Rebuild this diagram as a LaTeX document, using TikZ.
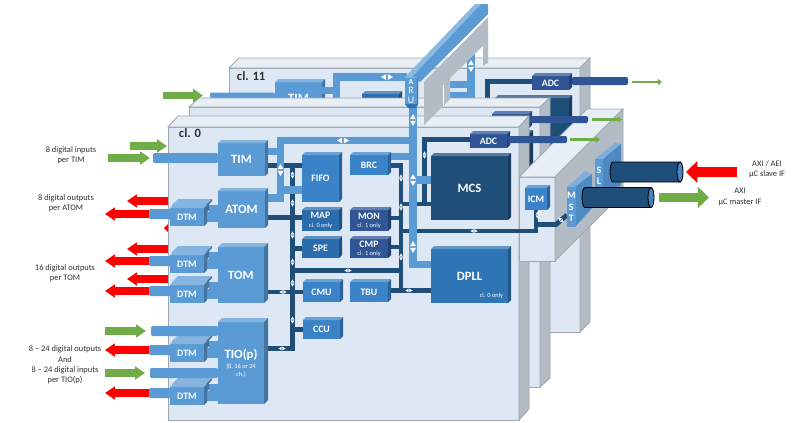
\documentclass[tikz,border=0pt]{standalone}
\usepackage{fontspec}
\setmainfont{Carlito}
\usepackage{xcolor}
\definecolor{boxlight}{HTML}{5B9BD5}
\definecolor{boxmid}{HTML}{3A83C9}
\definecolor{mapblue}{HTML}{2B6CAD}
\definecolor{monblue}{HTML}{2F5597}
\definecolor{mcsblue}{HTML}{1F4E79}
\definecolor{dpllblue}{HTML}{2E75B6}
\definecolor{platefront}{HTML}{DEE8F4}
\definecolor{platetop}{HTML}{E8EEF6}
\definecolor{plateside}{HTML}{B3BBC4}
\definecolor{plateedge}{HTML}{A0A6AD}
\definecolor{armgreen}{HTML}{70AD47}
\definecolor{labelgrey}{HTML}{303030}
\usepackage{tikz}
\usetikzlibrary{
    arrows.meta
}
\pgfdeclarelayer{back}
\pgfdeclarelayer{plate}
\pgfdeclarelayer{bus}
\pgfsetlayers{back,plate,bus,main}
\newcommand{\bigtxt}{\fontsize{9}{10}\selectfont\bfseries}
\newcommand{\midtxt}{\fontsize{7}{8}\selectfont\bfseries}
\newcommand{\tinytxt}{\fontsize{4.5}{5.2}\selectfont\mdseries}
\tikzset{
    platebox/.style = {rectangle, fill=platefront, draw=plateedge, line width=.6pt,
                       inner sep=0pt, outer sep=0pt, anchor=north west},
    platetopf/.style = {fill=platetop, draw=plateedge, line width=.6pt},
    platesidef/.style = {fill=plateside, draw=plateedge, line width=.6pt},
    cubebox/.style  = {rectangle, inner sep=0pt, outer sep=0pt, anchor=north west,
                       align=center, text=white, font=\fontsize{7}{8}\selectfont},
    barbox/.style   = {rectangle, fill=boxlight, rounded corners=1pt,
                       inner sep=0pt, outer sep=0pt, anchor=east},
    tubebox/.style  = {rectangle, fill=monblue, rounded corners=1pt,
                       inner sep=0pt, outer sep=0pt, anchor=west},
    cylbody/.style  = {fill=mcsblue, draw=black, line width=.6pt},
    cylcap/.style   = {fill=boxlight!70!mcsblue, draw=black, line width=.6pt},
    lightBus/.style = {draw=boxlight, line width=5pt},
    darkBus/.style  = {draw=mcsblue, line width=3.4pt},
    cabBus/.style   = {draw=boxlight, line width=7pt},
    greenArr/.style = {-{Triangle[length=7pt,width=9pt]}, draw=armgreen, line width=5pt},
    redArr/.style   = {-{Triangle[length=7pt,width=9pt]}, draw=red, line width=5pt},
    thinArr/.style  = {-{Triangle[length=3pt,width=4.5pt]}, draw=armgreen, line width=1.6pt},
    greenBig/.style = {-{Triangle[length=8pt,width=15pt]}, draw=armgreen, line width=7pt},
    redBig/.style   = {-{Triangle[length=8pt,width=15pt]}, draw=red, line width=7pt},
    sideLabel/.style = {font=\fontsize{6}{7.4}\selectfont, align=center, text=labelgrey},
    clLabel/.style  = {font=\fontsize{9}{10}\selectfont\bfseries, text=labelgrey, anchor=west},
    twoArrows/.pic  = {
        \fill[white] (-3,-.8) -- (0,-6) -- (3,-.8) -- cycle;
        \fill[white] (-3,.8) -- (0,6) -- (3,.8) -- cycle;
    }
}
% plate with its top and right faces
\newcommand{\slab}[7]{
  \node[platebox, minimum width=#4*0.025cm, minimum height=#5*0.025cm] (#1) at (#2,#3) {};
  \filldraw[platetopf] (#1.north west) -- ++(#6,-#7) -- ++(#4,0) -- (#1.north east) -- cycle;
  \filldraw[platesidef] (#1.north east) -- ++(#6,-#7) -- ++(0,#5) -- (#1.south east) -- cycle;
}
% block: [depth]{name}{x0}{y0}{x1}{y1}{colour}{text}
\newcommand{\cube}[8][3]{
  \node[cubebox, fill=#7, minimum width={(#5-#3-#1)*0.025cm},
        minimum height={(#6-#4-#1)*0.025cm}] (#2) at ({#3},{#4+#1}) {#8};
  \fill[#7!75!white] (#2.north west) -- ++(#1,-#1) -- ++({#5-#3-#1},0) -- (#2.north east) -- cycle;
  \fill[#7!75!black] (#2.north east) -- ++(#1,-#1) -- ++(0,{#6-#4-#1}) -- (#2.south east) -- cycle;
}
% stacked DTM with its two stubs: {name}{y0}{target}
\newcommand{\dtm}[3]{
  \begin{pgfonlayer}{bus}
    \cube{#1a}{175}{#2-6}{212}{#2+11}{boxlight}{}
    \draw[cabBus] (#1a.east |- 0,#2+5) -- (#3.west |- 0,#2+5);
  \end{pgfonlayer}
  \cube{#1b}{172}{#2-3}{209}{#2+14}{boxlight}{}
  \cube{#1}{170}{#2}{207}{#2+21}{boxlight}{\midtxt DTM}
  \begin{pgfonlayer}{bus}
    \draw[cabBus] (#1.east |- 0,#2+12) -- (#3.west |- 0,#2+12);
  \end{pgfonlayer}
  \node[barbox, minimum width=23*0.025cm, minimum height=10*0.025cm] (#1L) at (172,#2+9) {};
}
% round tube: {name}{x0}{y centre}{length}
\newcommand{\tubecyl}[4]{
  \node[rectangle, inner sep=0pt, outer sep=0pt, anchor=west,
        minimum width=#4*0.025cm, minimum height=20*0.025cm] (#1) at (#2,#3) {};
  \filldraw[cylbody] (#1.north east) -- (#1.north west)
     arc[start angle=-90, end angle=-270, x radius=3, y radius=10] -- (#1.south east) -- cycle;
  \filldraw[cylcap] (#1.east) ellipse [x radius=3, y radius=10];
}

\begin{document}
\begin{tikzpicture}[x=0.025cm, y=-0.025cm]
\useasboundingbox (0,0) rectangle (800,422);

% ===== cl. 11 (back) =====
\begin{pgfonlayer}{back}
\slab{plateB}{229}{68}{351}{264}{10}{10}
\node[clLabel] (clB) at (232,76) {cl. 11};
\node[barbox, minimum width=65*0.025cm, minimum height=6*0.025cm] (barB) at (275,95.5) {};
\coordinate (busBa) at (336.5,77);
\cube{TIMb}{275}{79}{325}{115}{boxlight}{\bigtxt TIM}
\cube{BRCb}{362}{91}{402}{115}{mapblue}{}
\draw[lightBus] (TIMb.east |- 0,90.5) -- (busBa |- 0,90.5);
\draw[lightBus] (busBa |- 0,99) -- (busBa) -- (407,77);
\draw[lightBus] (450,84.5) -- (471,84.5);
\draw[lightBus] (450,96) -- (471,96);
\draw[lightBus] (471,50) -- (471,100);
\cube{MCSb}{495}{95}{572}{185}{mcsblue}{}
\cube{ADCb}{532}{73}{572}{90}{monblue}{\midtxt ADC}
\draw[darkBus] (487.5,99) -- (487.5,81.5) -- (ADCb.west |- 0,81.5);
\pic at (387,77) [rotate=90] {twoArrows};
\pic at (471,66) {twoArrows};
% ===== middle plate =====
\slab{plateM}{189}{107}{351}{280}{10}{9}
\cube{ADCm}{492}{111}{532}{128}{monblue}{}
\cube{MCSm}{450}{130}{533}{200}{mcsblue}{}
\end{pgfonlayer}

% ===== cl. 0 (front) =====
\begin{pgfonlayer}{plate}
\slab{plateF}{168}{127}{351}{293}{10}{11}
\node[clLabel] (clF) at (174,133) {cl. 0};
\slab{blockR}{519}{177}{36}{84}{68}{68}
\end{pgfonlayer}

\cube{TIM}{218}{140}{268}{176}{boxlight}{\bigtxt TIM}
\cube{ATOM}{218}{188}{268}{228}{boxlight}{\bigtxt ATOM}
\cube[4]{TOM}{218}{243}{268}{303}{boxlight}{\bigtxt TOM}
\cube[4]{TIO}{218}{318}{268}{404}{boxlight}{\bigtxt TIO(p)\\[-.5pt]\tinytxt (8, 16 or 24\\[-2.5pt]\tinytxt ch.)}
\cube{FIFO}{302}{152}{342}{202}{boxmid}{\midtxt FIFO}
\cube{BRC}{350}{152}{391}{175}{boxmid}{\midtxt BRC}
\cube{MAP}{302}{207}{342}{231}{mapblue}{\midtxt MAP\\[-2pt]\tinytxt cl. 0 only}
\cube{MON}{350}{207}{391}{231}{monblue}{\midtxt MON\\[-2pt]\tinytxt cl. 1 only}
\cube{SPE}{302}{236}{342}{258}{mapblue}{\midtxt SPE}
\cube{CMP}{350}{236}{391}{258}{monblue}{\midtxt CMP\\[-2pt]\tinytxt cl. 1 only}
\cube{CMU}{303}{279}{343}{302}{boxmid}{\midtxt CMU}
\cube{TBU}{350}{279}{391}{302}{boxmid}{\midtxt TBU}
\cube{CCU}{303}{317}{343}{339}{boxmid}{\midtxt CCU}
\cube{MCS}{431}{153}{511}{220}{mcsblue}{\bigtxt MCS}
\cube{DPLL}{431}{246}{511}{303}{dpllblue}{\bigtxt DPLL}
\node[anchor=south east, text=white, font=\tinytxt] (dpllNote) at (DPLL.south east) {cl. 0 only};
\cube{ADC}{470}{131}{510}{148}{monblue}{\midtxt ADC}
\cube{ICM}{525}{185}{550}{210}{boxmid}{\midtxt ICM}

\dtm{dtmA}{205}{ATOM}
\dtm{dtmB}{252}{TOM}
\dtm{dtmC}{282}{TOM}
\dtm{dtmD}{341}{TIO}
\dtm{dtmE}{384}{TIO}

\node[barbox, minimum width=65*0.025cm, minimum height=10*0.025cm] (barT) at (218,158) {};
\node[barbox, minimum width=67*0.025cm, minimum height=10*0.025cm] (barU) at (218,331) {};
\node[barbox, minimum width=68*0.025cm, minimum height=10*0.025cm] (barV) at (218,373) {};

% ===== AXI interface blocks =====
\fill[boxlight!80!white] (595,159) -- (615,143) -- (621,144) -- (603,159) -- cycle;
\fill[dpllblue!85!white] (603,159) -- (621,144) -- (621,185) -- (603,201) -- cycle;
\node[cubebox, fill=boxlight, minimum width=8*0.025cm, minimum height=33*0.025cm, font=\midtxt] (SL) at (595,159) {S\\L};
\fill[boxlight!80!white] (567,187) -- (585,171) -- (592,174) -- (575,187) -- cycle;
\fill[dpllblue!85!white] (575,187) -- (592,174) -- (592,208) -- (575,227) -- cycle;
\node[cubebox, fill=boxlight, minimum width=8*0.025cm, minimum height=40*0.025cm, font=\midtxt] (MST) at (567,187) {M\\S\\T};

% ===== buses =====
\coordinate (busL) at (280.5,140.5);
\coordinate (busR) at (413,140.5);
\coordinate (busD) at (292.5,165.5);
\coordinate (busE) at (401,165.5);
\coordinate (busA) at (424.5,204);
\begin{pgfonlayer}{bus}
\draw[darkBus] (TIM.east |- busD) -- (FIFO.west |- busD);
\draw[darkBus] (busD) -- (busD |- 0,348.5) -- (TIO.east |- 0,348.5);
\draw[darkBus] (ATOM.east |- 0,217.5) -- (MAP.west |- 0,217.5);
\draw[darkBus] (busD |- SPE.west) -- (SPE.west);
\draw[darkBus] (TOM.east |- 0,292) -- (CMU.west |- 0,292);
\draw[darkBus] (busD |- CCU.west) -- (CCU.west);
\draw[darkBus] (BRC.east |- busE) -- (busE) -- (busE |- 0,290.5);
\draw[darkBus] (TBU.east |- 0,290.5) -- (DPLL.west |- 0,290.5);
\draw[darkBus] (MON.east |- 0,218) -- (busE |- 0,218);
\draw[darkBus] (CMP.east |- 0,247) -- (busE |- 0,247);
\draw[darkBus] (busD |- 0,270.5) -- (busE |- 0,270.5);
\draw[darkBus] (busE |- 0,231) -- (ICM.south |- 0,231) -- (ICM.south);
\draw[darkBus] (ICM.south |- 0,224.5) -- (556,224.5) -- (MST.west |- 0,215);
\draw[darkBus] (busE |- busA) -- (MCS.west |- busA);
\draw[darkBus] (busA) -- (busA |- 0,139.5) -- (ADC.west |- 0,139.5);
\draw[lightBus] (TIM.east |- 0,151.5) -- (busL |- 0,151.5);
\draw[lightBus] (ATOM.east |- 0,198) -- (busL |- 0,198) -- (busL) -- (busR);
\draw[lightBus] (busL |- 0,190) -- (FIFO.west |- 0,190);
\draw[lightBus] (BRC.east |- 0,156.5) -- (busR |- 0,156.5);
\draw[lightBus] (busR |- 0,180) -- (MCS.west |- 0,180);
\draw[lightBus] (busR |- 0,105) -- (busR |- 0,264.5) -- (DPLL.west |- 0,264.5);
\pic at (343,140.5) [rotate=90] {twoArrows};
\pic at (280.5,170) {twoArrows};
\pic at (413,120) {twoArrows};
\pic at (413,180) {twoArrows};
\pic at (413,247) {twoArrows};
\pic at (292.5,175) [scale=.6] {twoArrows};
\pic at (292.5,203) [scale=.6] {twoArrows};
\pic at (292.5,235) [scale=.6] {twoArrows};
\pic at (292.5,262) [scale=.6] {twoArrows};
\pic at (292.5,283) [scale=.6] {twoArrows};
\pic at (292.5,320) [scale=.6] {twoArrows};
\pic at (401,178) [scale=.6] {twoArrows};
\pic at (401,207) [scale=.6] {twoArrows};
\pic at (401,257) [scale=.6] {twoArrows};
\pic at (424.5,155) [scale=.6] {twoArrows};
\pic at (537.5,215) [scale=.6] {twoArrows};
\pic at (282,348.5) [scale=.6,rotate=90] {twoArrows};
\pic at (283,292) [scale=.6,rotate=90] {twoArrows};
\pic at (348,270.5) [scale=.6,rotate=90] {twoArrows};
\pic at (409,290.5) [scale=.6,rotate=90] {twoArrows};
\pic at (474,231) [scale=.6,rotate=90] {twoArrows};
\pic at (561,220) [scale=.6,rotate=45] {twoArrows};
\end{pgfonlayer}

% ===== ARU =====
\fill[plateside] (488,17) -- (488,63) -- (483,66) -- (483,46) -- (450,78) -- (450,99)
   -- (424,125) -- (424,82) -- cycle;
\draw[white, line width=.7pt] (443,85) -- (443,106);
\fill[boxlight!70!white] (405,77) -- (475,4) -- (481,4) -- (412,77) -- cycle;
\fill[boxlight] (412,77) -- (481,4) -- (488,4) -- (488,14) -- (420,82) -- (417,80) -- cycle;
\cube[1]{ARU}{405}{77}{418}{105}{boxlight}{\fontsize{5.5}{6.5}\selectfont\bfseries A\\[-1.5pt]R\\[-1.5pt]U}
\fill[dpllblue] (405,104) -- (418,104) -- (416,108) -- (408,108) -- cycle;

% ===== cables and output arrows =====
\node[tubebox, minimum width=56*0.025cm, minimum height=8*0.025cm] (tubeB) at (572,81) {};
\node[tubebox, minimum width=58*0.025cm, minimum height=7*0.025cm] (tubeM) at (530,119.5) {};
\node[tubebox, minimum width=59*0.025cm, minimum height=7*0.025cm] (tubeF) at (508,139.5) {};
\draw[thinArr] (tubeB.east) ++(4,1) -- ++(30,0);
\draw[thinArr] (tubeM.east) ++(4,0) -- ++(30,0);
\draw[thinArr] (tubeF.east) ++(3,0) -- ++(30,0);
\tubecyl{cylS}{613}{172}{67}
\tubecyl{cylM}{585}{197.5}{66}
\draw[redBig] (cylS.east) ++(57,0) -- ++(-51,0);
\draw[greenBig] (cylM.east) ++(8,0) -- ++(50,0);

% ===== input and output arrows =====
\draw[greenArr] (barB.west) ++(-47,0) -- ++(40,0);
\draw[greenArr] (plateF.west |- 0,146) ++(-38,0) -- ++(37,0);
\draw[greenArr] (barT.west) ++(-45,0) -- ++(42,0);
\draw[greenArr] (barU.west) ++(-46,0) -- ++(41,0);
\draw[greenArr] (barV.west) ++(-45,0) -- ++(40,0);
\draw[redArr] (plateF.west |- 0,201) -- ++(-41,0);
\draw[redArr] (plateF.west |- 0,249) -- ++(-41,0);
\draw[redArr] (plateF.west |- 0,279) -- ++(-41,0);
\draw[redArr] (dtmAL.west) -- ++(-44,0);
\draw[redArr] (dtmBL.west) -- ++(-44,0);
\draw[redArr] (dtmCL.west) -- ++(-44,0);
\draw[redArr] (dtmDL.west) -- ++(-44,0);
\draw[redArr] (dtmEL.west) -- ++(-44,0);
\fill[red] (plateF.west |- 0,224) -- (164,228) -- (plateF.west |- 0,232) -- cycle;

% ===== labels =====
\node[sideLabel] (lblTIM) at (71,155) {8 digital inputs\\per TIM};
\node[sideLabel] (lblATOM) at (66,203) {8 digital outputs\\per ATOM};
\node[sideLabel] (lblTOM) at (65,273) {16 digital outputs\\per TOM};
\node[sideLabel] (lblTIO) at (65,365) {8 -- 24 digital outputs\\And\\8 -- 24 digital inputs\\per TIO(p)};
\node[sideLabel] (lblSlave) at (767,169) {AXI / AEI\\µC slave IF};
\node[sideLabel] (lblMaster) at (740,197) {AXI\\µC master IF};
\end{tikzpicture}
\end{document}
